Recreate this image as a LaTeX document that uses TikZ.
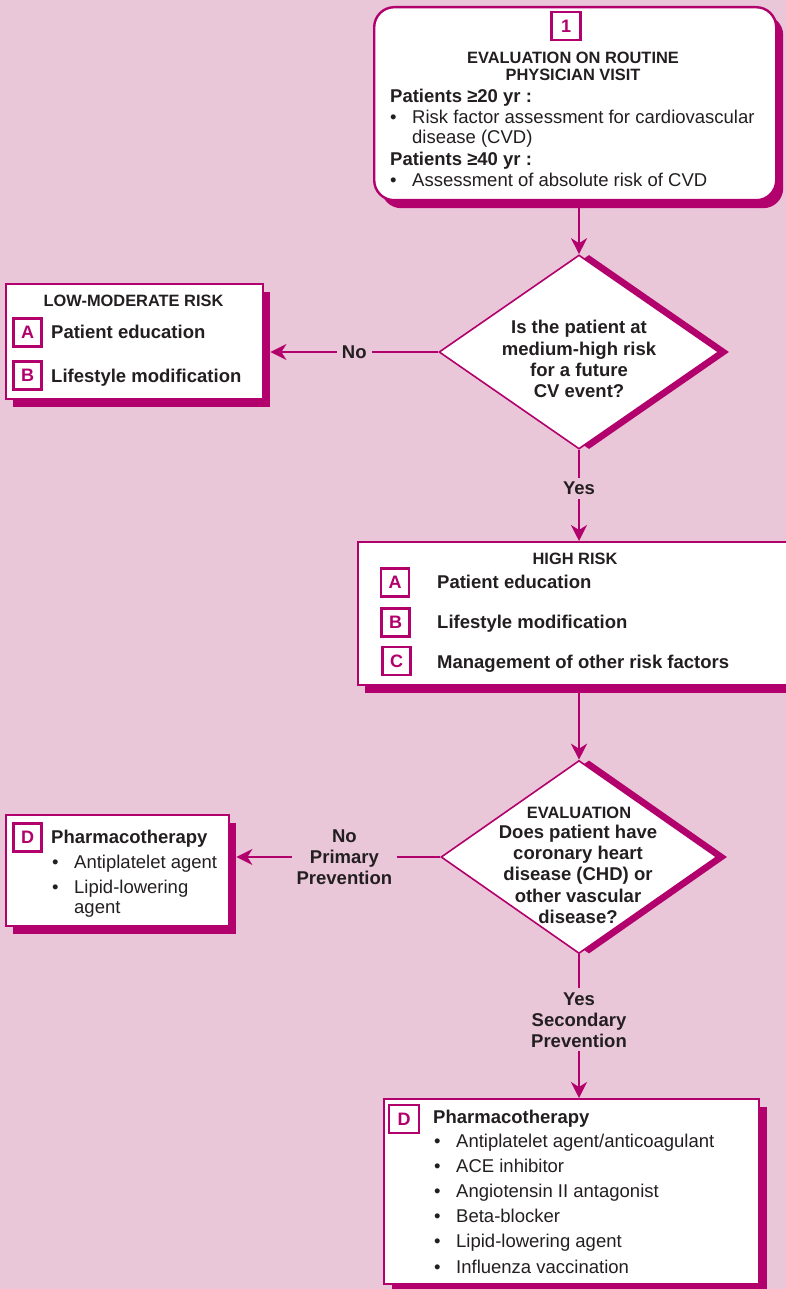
\documentclass[tikz,border=0pt]{standalone}
\usepackage{fontspec}
\setmainfont{Liberation Sans}
\usetikzlibrary{shapes.geometric,arrows.meta}
\definecolor{bgc}{RGB}{233,198,216}
\definecolor{mag}{RGB}{178,0,108}
\definecolor{txt}{RGB}{35,31,32}
\begin{document}
\begin{tikzpicture}[x=1pt,y=-1pt,
  T/.style={text=txt, inner sep=0pt, font=\fontsize{18.5}{21.3}\selectfont},
  TB/.style={text=txt, inner sep=0pt, font=\bfseries\fontsize{18.5}{21.3}\selectfont},
  H/.style={text=txt, inner sep=0pt, font=\bfseries\fontsize{16.4}{17}\selectfont},
  letterbox/.style={draw=mag, line width=2.2pt, minimum width=28pt, minimum height=28pt, inner sep=0pt, fill=white, text=mag, font=\bfseries\fontsize{18}{18}\selectfont},
  wbox/.style={draw=mag, line width=2.2pt, fill=white, anchor=north west, inner sep=0pt},
  shbox/.style={fill=mag, anchor=north west, inner sep=0pt},
  dwhite/.style={diamond, draw=mag, line width=1.6pt, fill=white, inner sep=0pt},
  dshadow/.style={diamond, fill=mag, inner sep=0pt},
  arr/.style={draw=mag, line width=2.2pt, -{Stealth[length=16pt,width=16pt,inset=5pt]}},
  lbl/.style={fill=bgc, text=txt, align=center, inner xsep=5pt, inner ysep=4pt, font=\bfseries\fontsize{18.5}{21}\selectfont}
]
\useasboundingbox (0,0) rectangle (786,1289);
\fill[bgc] (0,0) rectangle (786,1289);
\clip (0,0) rectangle (786,1289);

% ---------- boxes and shadows ----------
\node[shbox, rounded corners=20pt, minimum width=402pt, minimum height=193pt] (b1s) at (381,15) {};
\node[wbox, rounded corners=20pt, line width=2.4pt, minimum width=402pt, minimum height=193pt] (b1) at (373,6) {};

\node[shbox, minimum width=257pt, minimum height=115pt] (lows) at (13,292) {};
\node[wbox, minimum width=257pt, minimum height=115pt] (low) at (5,283) {};

\node[shbox, minimum width=440pt, minimum height=143pt] (highs) at (365,550) {};
\node[wbox, minimum width=440pt, minimum height=143pt] (high) at (357,541) {};

\node[shbox, minimum width=223pt, minimum height=111pt] (dones) at (13,823) {};
\node[wbox, minimum width=223pt, minimum height=111pt] (done) at (5,814) {};

\node[shbox, minimum width=375pt, minimum height=185pt] (dtwos) at (392,1107) {};
\node[wbox, minimum width=375pt, minimum height=185pt] (dtwo) at (383,1098) {};

% ---------- diamonds ----------
\node[dshadow, minimum width=280pt, minimum height=194pt] (d1s) at (589,352) {};
\node[dwhite, minimum width=280pt, minimum height=194pt] (d1) at (579,352) {};
\node[dshadow, minimum width=276pt, minimum height=193pt] (d2s) at (589,857) {};
\node[dwhite, minimum width=276pt, minimum height=193pt] (d2) at (579,857) {};

% ---------- connectors ----------
\draw[arr] (d1.north |- b1s.south) -- (d1.north);
\draw[arr] (d1.west) -- node[lbl, pos=0.5] (lno) {No} (d1.west -| lows.east);
\draw[arr] (d1.south) -- node[lbl, pos=0.42] (lyes) {Yes} (d1.south |- high.north);
\draw[arr] (d2.north |- highs.south) -- (d2.north);
\draw[arr] (d2.west) -- node[lbl, pos=0.47] (lno2) {No\\Primary\\Prevention} (d2.west -| dones.east);
\draw[arr] (d2.south) -- node[lbl, pos=0.456] (lyes2) {Yes\\Secondary\\Prevention} (d2.south |- dtwo.north);

% ---------- box 1 text ----------
\node[letterbox, minimum width=29pt] (n1) at (566,26) {1};
\node[H, anchor=base] (h1a) at (573,64) {EVALUATION ON ROUTINE};
\node[H, anchor=base] (h1b) at (573,81) {PHYSICIAN VISIT};
\node[TB, anchor=base west] (p20) at (390,103) {Patients ≥20 yr :};
\node[T, anchor=base west] (bu1) at (390,124) {•};
\node[T, anchor=base west] (r1) at (412,124) {Risk factor assessment for cardiovascular};
\node[T, anchor=base west] (r2) at (412,144) {disease (CVD)};
\node[TB, anchor=base west] (p40) at (390,166) {Patients ≥40 yr :};
\node[T, anchor=base west] (bu2) at (390,187) {•};
\node[T, anchor=base west] (r3) at (412,187) {Assessment of absolute risk of CVD};

% ---------- low-moderate box ----------
\node[H, anchor=base] (lowh) at (133.5,306) {LOW-MODERATE RISK};
\node[letterbox] (la) at (27.5,332.5) {A};
\node[letterbox] (lb) at (27.5,375.5) {B};
\node[TB, anchor=base west] (lat) at (51,338) {Patient education};
\node[TB, anchor=base west] (lbt) at (51,382) {Lifestyle modification};

% ---------- high risk box ----------
\node[H, anchor=base] (highh) at (575,564) {HIGH RISK};
\node[letterbox] (ha) at (395,582.5) {A};
\node[letterbox] (hb) at (395.5,622.5) {B};
\node[letterbox] (hc) at (396.5,661) {C};
\node[TB, anchor=base west] (hat) at (437,588) {Patient education};
\node[TB, anchor=base west] (hbt) at (437,628) {Lifestyle modification};
\node[TB, anchor=base west] (hct) at (437,668) {Management of other risk factors};

% ---------- diamond texts ----------
\node[TB, align=center] (q1) at (579,359.3) {Is the patient at\\medium-high risk\\for a future\\CV event?};
\node[H, anchor=base] (q2h) at (579,818) {EVALUATION};
\node[TB, align=center] (q2) at (578,874.3) {Does patient have\\coronary heart\\disease (CHD) or\\other vascular\\disease?};

% ---------- pharmacotherapy (primary) ----------
\node[letterbox] (pd) at (27.5,837.5) {D};
\node[TB, anchor=base west] (pdt) at (51,843) {Pharmacotherapy};
\node[T, anchor=base west] (pb1) at (52,868) {•};
\node[T, anchor=base west] (pt1) at (74,868) {Antiplatelet agent};
\node[T, anchor=base west] (pb2) at (52,893) {•};
\node[T, anchor=base west] (pt2) at (74,893) {Lipid-lowering};
\node[T, anchor=base west] (pt3) at (74,913) {agent};

% ---------- pharmacotherapy (secondary) ----------
\node[letterbox, minimum width=30pt] (sd) at (404,1119) {D};
\node[TB, anchor=base west] (sdt) at (433,1123) {Pharmacotherapy};
\foreach \yy/\tt [count=\i] in {1147/Antiplatelet agent\slash anticoagulant,1172/ACE inhibitor,1197/Angiotensin II antagonist,1222/Beta-blocker,1247/Lipid-lowering agent,1273/Influenza vaccination}{
  \node[T, anchor=base west] (sb\i) at (434,\yy) {•};
  \node[T, anchor=base west] (st\i) at (456,\yy) {\tt};
}
\end{tikzpicture}
\end{document}
